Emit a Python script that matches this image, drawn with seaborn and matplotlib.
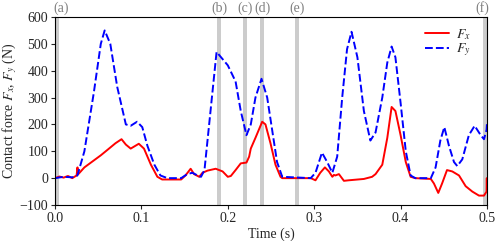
import numpy as np
import pandas as pd
import matplotlib
matplotlib.use("Agg")
import matplotlib.pyplot as plt
import seaborn as sns

# Data
t_fy = [0.0, 0.01, 0.02, 0.026, 0.034, 0.045, 0.053, 0.0575, 0.064, 0.072, 0.082, 0.0876, 0.095, 0.101,
        0.107, 0.115, 0.122, 0.130, 0.146, 0.153, 0.159, 0.165, 0.169, 0.173, 0.180, 0.187, 0.200,
        0.209, 0.215, 0.2216, 0.2266, 0.232, 0.239, 0.2456, 0.2513, 0.257, 0.263, 0.296, 0.3015,
        0.309, 0.315, 0.321, 0.3266, 0.3324, 0.338, 0.3432, 0.350, 0.3575, 0.365, 0.371, 0.3788,
        0.3846, 0.3896, 0.394, 0.400, 0.406, 0.4116, 0.417, 0.435, 0.4405, 0.446, 0.4506, 0.456,
        0.4618, 0.4656, 0.4714, 0.479, 0.4857, 0.4927, 0.4965, 0.4995, 0.5]
fy = [0, 5, 3, 10, 100, 320, 500, 550, 500, 340, 200, 195, 210, 190,
      120, 50, 10, 0, 0, 15, 20, 10, 5, 30, 250, 470, 420,
      360, 250, 160, 200, 300, 370, 300, 180, 60, 5, 0, 20,
      95, 60, 20, 80, 300, 480, 545, 450, 250, 140, 170, 300,
      430, 490, 450, 280, 100, 10, 0, 0, 40, 140, 190, 120,
      60, 45, 70, 160, 195, 160, 145, 180, 205]

t_fx = [0.0, 0.005, 0.01, 0.015, 0.02, 0.025, 0.026, 0.027, 0.034, 0.053, 0.0606, 0.070, 0.077, 0.082,
        0.0876, 0.097, 0.103, 0.111, 0.1185, 0.124, 0.130, 0.146, 0.151, 0.157, 0.161, 0.167,
        0.1707, 0.1765, 0.186, 0.194, 0.200, 0.2035, 0.209, 0.215, 0.2216, 0.2247, 0.2266, 0.232,
        0.2398, 0.2436, 0.2494, 0.2552, 0.261, 0.263, 0.296, 0.3015, 0.307, 0.3124, 0.317, 0.321,
        0.3228, 0.3245, 0.3286, 0.3344, 0.340, 0.3575, 0.367, 0.371, 0.3788, 0.3846, 0.3896,
        0.394, 0.400, 0.406, 0.4116, 0.417, 0.435, 0.4386, 0.4436, 0.448, 0.4537, 0.4598, 0.4676,
        0.4753, 0.483, 0.4907, 0.4965, 0.4995, 0.4998, 0.5]
fx = [0, 6, 2, 8, 0, 10, 40, 15, 40, 85, 105, 130, 145, 125,
      110, 128, 110, 50, 5, -5, -5, -5, 10, 35, 15, 5,
      20, 28, 35, 25, 5, 8, 30, 55, 58, 80, 110, 150,
      210, 200, 130, 50, 5, 0, 0, -8, 20, 40, 25, 5,
      12, 10, 15, -10, -8, -3, 5, 15, 50, 150, 265,
      250, 160, 60, 5, 0, -3, -20, -55, -20, 30, 25, 10,
      -30, -50, -65, -65, -50, 0, -40]

event_times = [0.003, 0.19, 0.22, 0.24, 0.28, 0.4975]
event_labels = ["(a)", "(b)", "(c)", "(d)", "(e)", "(f)"]
label_times = [0.0075, 0.19, 0.22, 0.24, 0.28, 0.4945]

df = pd.concat([
    pd.DataFrame({"t": t_fx, "F": fx, "comp": "$F_x$"}),
    pd.DataFrame({"t": t_fy, "F": fy, "comp": "$F_y$"}),
])

sns.set_theme(style="ticks")
plt.rcParams["font.family"] = ["Liberation Serif", "DejaVu Serif"]
plt.rcParams["mathtext.fontset"] = "stix"

fig = plt.figure(figsize=(4.98, 2.41), dpi=100)
ax = fig.add_axes([55/498, 1-205/241, (487-55)/498, (205-17)/241])

for et in event_times:
    ax.axvspan(et - 0.0022, et + 0.0022, color="#cccccc", lw=0, zorder=0)

sns.lineplot(data=df, x="t", y="F", hue="comp", style="comp",
             palette={"$F_x$": "red", "$F_y$": "blue"},
             dashes={"$F_x$": "", "$F_y$": (4, 1.6)},
             linewidth=1.4, ax=ax, sort=False, estimator=None)

for lt, lab in zip(label_times, event_labels):
    ax.text(lt, 1.012, lab, transform=ax.get_xaxis_transform(), ha="center", va="bottom",
            color="gray", fontsize=10)

ax.set_xlim(0, 0.5)
ax.set_ylim(-100, 600)
ax.set_xticks([0.0, 0.1, 0.2, 0.3, 0.4, 0.5])
ax.set_xticklabels(["0.0", "0.1", "0.2", "0.3", "0.4", "0.5"])
ax.set_yticks([-100, 0, 100, 200, 300, 400, 500, 600])
ax.set_yticklabels(["\u2212100", "0", "100", "200", "300", "400", "500", "600"])
ax.tick_params(labelsize=10, length=3, width=0.8, pad=2)
ax.set_xlabel("Time (s)", fontsize=10, labelpad=2)
ax.set_ylabel("Contact force $F_x$, $F_y$ (N)", fontsize=10, labelpad=0)
for s in ax.spines.values():
    s.set_linewidth(0.8)
    s.set_color("black")
leg = ax.legend(frameon=False, loc="upper right", fontsize=10, handlelength=1.7,
                handletextpad=0.5, labelspacing=0.0, borderaxespad=0.3,
                bbox_to_anchor=(0.985, 1.0))
fig.savefig("out.png", dpi=100)
